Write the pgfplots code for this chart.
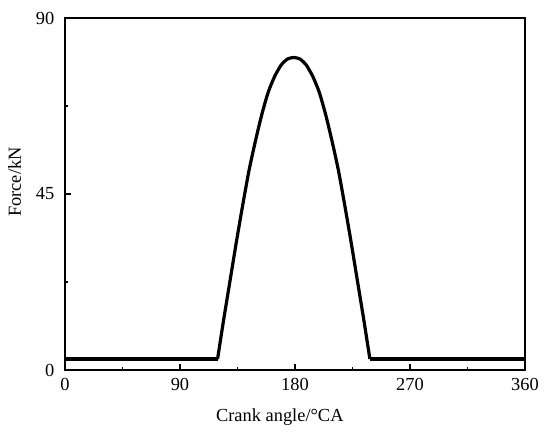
\documentclass[border=0pt]{standalone}
\usepackage{fontspec}
\setmainfont{Liberation Serif}
\usepackage{pgfplots}
\pgfplotsset{compat=1.18}

\begin{document}
\begin{tikzpicture}
\begin{axis}[
  scale only axis,
  width=345pt, height=264pt,
  xmin=0, xmax=360, ymin=0, ymax=90,
  xtick={0,90,180,270,360},
  ytick={0,45,90},
  minor xtick={45,135,225,315},
  minor ytick={22.5,67.5},
  tick pos=left,
  tick align=inside,
  major tick length=4.5pt,
  minor tick length=2.5pt,
  every tick/.style={black, line width=0.9pt},
  axis line style={line width=1.2pt},
  /pgf/number format/assume math mode=true,
  ticklabel style={font=\fontsize{13.8}{16}\selectfont},
  label style={font=\fontsize{13.8}{16}\selectfont},
  xticklabel style={yshift=-3pt},
  yticklabel style={xshift=-4.5pt},
  xlabel={Crank angle/°CA},
  ylabel={Force/kN},
  xlabel style={at={(axis description cs:0.467,0)}, anchor=base, yshift=-38.5pt},
  ylabel style={at={(axis description cs:0,0.534)}, anchor=base, yshift=33pt},
]
% flat parts
\addplot[black, line width=2.4pt] coordinates {(0,2.8) (119.6,2.8)};
\addplot[black, line width=2.4pt] coordinates {(238.4,2.8) (360,2.8)};
% load curve
\addplot[black, line width=2.4pt, smooth, tension=0.4] coordinates {
  (119.4,2.8) (124,12.5) (129,22.5) (134,32.5) (139,42) (144,51)
  (149,58.5) (154,65.3) (159,71) (164,75) (169,77.9) (174,79.5)
  (179,79.9) (184,79.5) (189,77.9) (194,75) (199,71) (204,65.3)
  (209,58.5) (214,51) (219,42) (224,32.5) (229,22.5) (234,12.5)
  (238.6,2.8)
};
\end{axis}
\path ([xshift=-48.75pt,yshift=-48.75pt]current axis.south west)
  rectangle ([xshift=18.75pt,yshift=13.5pt]current axis.north east);
\end{tikzpicture}
\end{document}
